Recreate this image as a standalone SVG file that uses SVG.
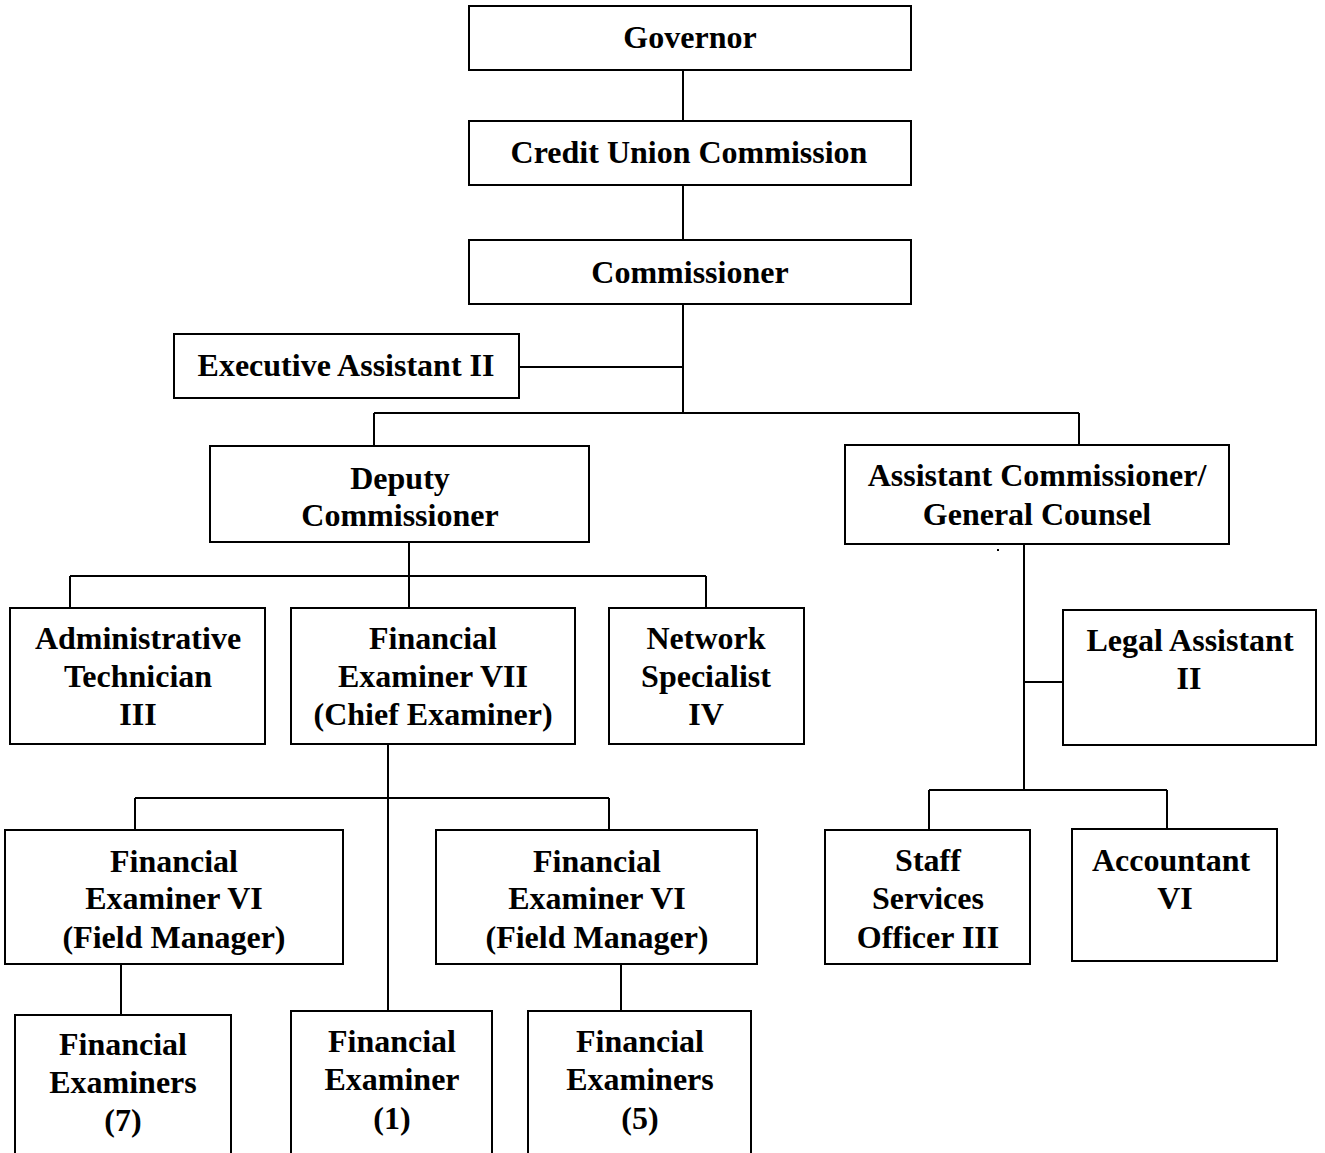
<svg xmlns="http://www.w3.org/2000/svg" width="1325" height="1153" viewBox="0 0 1325 1153">
<style>
rect{fill:#fff;stroke:#000;stroke-width:2}
.c line{stroke:#000;stroke-width:2}
text{font-family:"Liberation Serif","Times New Roman",serif;font-weight:bold;font-size:32px;text-anchor:middle;fill:#000}
</style>
<rect x="0" y="0" width="1325" height="1153" style="stroke:none"/>
<g class="c" id="connectors">
<line x1="683" y1="70" x2="683" y2="121"/>
<line x1="683" y1="185" x2="683" y2="240"/>
<line x1="683" y1="304" x2="683" y2="413"/>
<line x1="519" y1="367" x2="683" y2="367"/>
<line x1="374" y1="413" x2="1079" y2="413"/>
<line x1="374" y1="413" x2="374" y2="446"/>
<line x1="1079" y1="413" x2="1079" y2="445"/>
<line x1="409" y1="542" x2="409" y2="576"/>
<line x1="70" y1="576" x2="706" y2="576"/>
<line x1="70" y1="576" x2="70" y2="608"/>
<line x1="409" y1="576" x2="409" y2="608"/>
<line x1="706" y1="576" x2="706" y2="608"/>
<line x1="388" y1="744" x2="388" y2="1011"/>
<line x1="135" y1="798" x2="609" y2="798"/>
<line x1="135" y1="798" x2="135" y2="830"/>
<line x1="609" y1="798" x2="609" y2="830"/>
<line x1="121" y1="964" x2="121" y2="1015"/>
<line x1="621" y1="964" x2="621" y2="1011"/>
<line x1="1024" y1="544" x2="1024" y2="790"/>
<line x1="1024" y1="682" x2="1063" y2="682"/>
<line x1="929" y1="790" x2="1167" y2="790"/>
<line x1="929" y1="790" x2="929" y2="830"/>
<line x1="1167" y1="790" x2="1167" y2="829"/>
</g>
<g id="governor"><rect x="469" y="6" width="442" height="64"/><text x="690" y="48">Governor</text></g>
<g id="cuc"><rect x="469" y="121" width="442" height="64"/><text x="689" y="163">Credit Union Commission</text></g>
<g id="commissioner"><rect x="469" y="240" width="442" height="64"/><text x="690" y="283">Commissioner</text></g>
<g id="exec"><rect x="174" y="334" width="345" height="64"/><text x="346" y="376">Executive Assistant II</text></g>
<g id="deputy"><rect x="210" y="446" width="379" height="96"/><text x="400" y="489">Deputy</text><text x="400" y="526">Commissioner</text></g>
<g id="asst"><rect x="845" y="445" width="384" height="99"/><text x="1037" y="486">Assistant Commissioner/</text><text x="1037" y="525">General Counsel</text><rect x="997" y="549" width="2" height="2" style="fill:#000;stroke:none"/></g>
<g id="admin"><rect x="10" y="608" width="255" height="136"/><text x="138" y="649">Administrative</text><text x="138" y="687">Technician</text><text x="138" y="725">III</text></g>
<g id="fe7"><rect x="291" y="608" width="284" height="136"/><text x="433" y="649">Financial</text><text x="433" y="687">Examiner VII</text><text x="433" y="725">(Chief Examiner)</text></g>
<g id="network"><rect x="609" y="608" width="195" height="136"/><text x="706" y="649">Network</text><text x="706" y="687">Specialist</text><text x="706" y="725">IV</text></g>
<g id="legal"><rect x="1063" y="610" width="253" height="135"/><text x="1190" y="651">Legal Assistant</text><text x="1189" y="689">II</text></g>
<g id="fe6a"><rect x="5" y="830" width="338" height="134"/><text x="174" y="872">Financial</text><text x="174" y="909">Examiner VI</text><text x="174" y="948">(Field Manager)</text></g>
<g id="fe6b"><rect x="436" y="830" width="321" height="134"/><text x="597" y="872">Financial</text><text x="597" y="909">Examiner VI</text><text x="597" y="948">(Field Manager)</text></g>
<g id="staff"><rect x="825" y="830" width="205" height="134"/><text x="928" y="871">Staff</text><text x="928" y="909">Services</text><text x="928" y="948">Officer III</text></g>
<g id="accountant"><rect x="1072" y="829" width="205" height="132"/><text x="1171" y="871">Accountant</text><text x="1175" y="909">VI</text></g>
<g id="fe-7"><rect x="15" y="1015" width="216" height="150"/><text x="123" y="1055">Financial</text><text x="123" y="1093">Examiners</text><text x="123" y="1131">(7)</text></g>
<g id="fe-1"><rect x="291" y="1011" width="201" height="154"/><text x="392" y="1052">Financial</text><text x="392" y="1090">Examiner</text><text x="392" y="1129">(1)</text></g>
<g id="fe-5"><rect x="528" y="1011" width="223" height="154"/><text x="640" y="1052">Financial</text><text x="640" y="1090">Examiners</text><text x="640" y="1129">(5)</text></g>
</svg>
